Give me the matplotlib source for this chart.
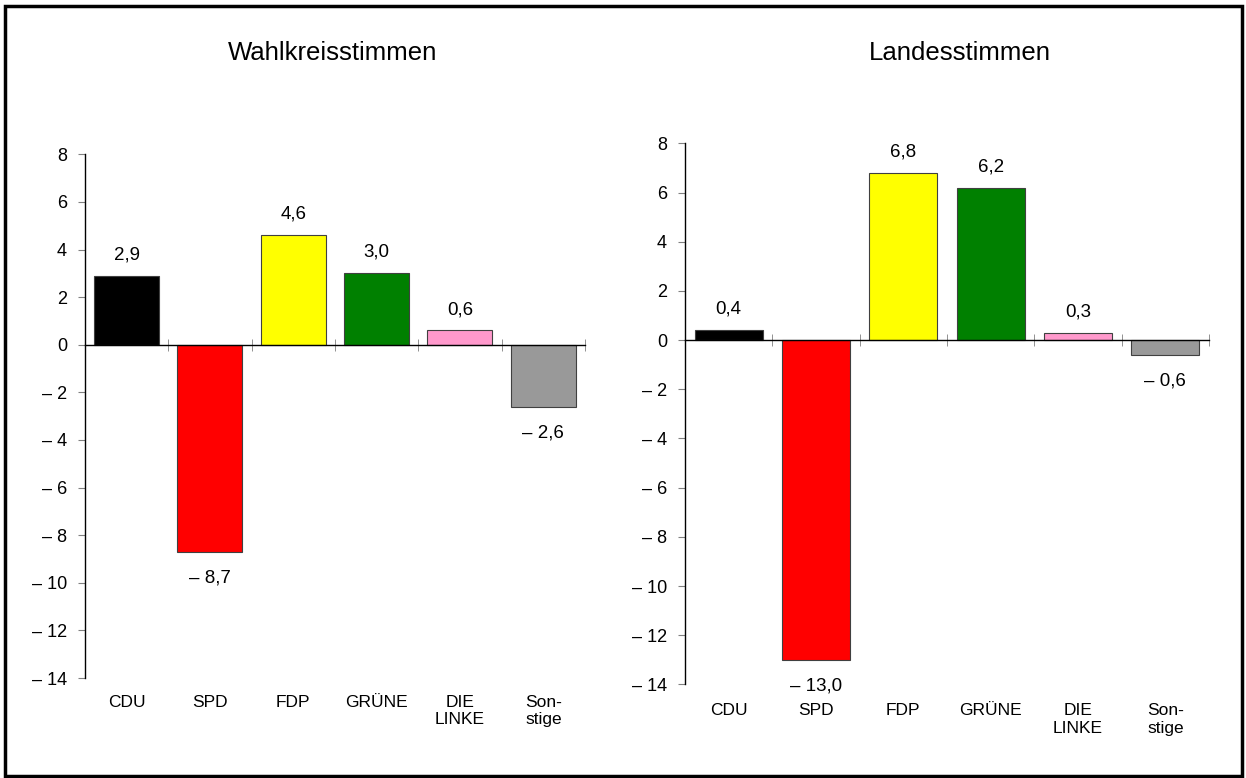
import matplotlib.pyplot as plt
import numpy as np
from matplotlib.patches import Rectangle

plt.rcParams['font.family'] = ['Liberation Sans', 'DejaVu Sans']

parties = ['CDU', 'SPD', 'FDP', 'GRÜNE', 'DIE\nLINKE', 'Son-\nstige']
colors = ['#000000', '#FF0000', '#FFFF00', '#008000', '#FF99CC', '#999999']
wahlkreis = [2.9, -8.7, 4.6, 3.0, 0.6, -2.6]
landes = [0.4, -13.0, 6.8, 6.2, 0.3, -0.6]
yticks = list(range(-14, 9, 2))


def fmt(v, digits=1):
    s = f"{abs(v):.{digits}f}".replace('.', ',')
    return '– ' + s if v < 0 else s


def draw(ax, vals, label_pad):
    x = np.arange(len(parties))
    ax.bar(x, vals, width=0.78, color=colors, edgecolor='#404040', linewidth=0.8)
    ax.set_xlim(-0.5, 5.5)
    ax.set_ylim(-14, 8)

    ax.spines['right'].set_visible(False)
    ax.spines['bottom'].set_visible(False)
    ax.spines['top'].set_position(('data', 0))
    ax.spines['top'].set_linewidth(1.0)
    ax.spines['left'].set_linewidth(1.0)

    ax.set_xticks(x, parties)
    ax.set_xticks(np.arange(-0.5, 6, 1), minor=True)
    ax.tick_params(axis='x', which='major', bottom=True, top=False, length=0,
                   pad=label_pad, labelsize=12.5)
    ax.tick_params(axis='x', which='minor', bottom=False, top=True,
                   direction='inout', length=8, color='#808080')

    ax.set_yticks(yticks, [fmt(t, 0) for t in yticks])
    ax.tick_params(axis='y', direction='out', length=5, color='#808080',
                   pad=8, labelsize=13)

    for xi, v in zip(x, vals):
        ax.annotate(fmt(v), (xi, v), xytext=(0, 15 if v > 0 else -19),
                    textcoords='offset points', ha='center', va='center',
                    fontsize=13.5)


fig = plt.figure(figsize=(12.46, 7.78), dpi=100)

ax1 = fig.add_axes([0.0682, 0.1285, 0.4013, 0.6732])
draw(ax1, wahlkreis, 12)
ax2 = fig.add_axes([0.5498, 0.1202, 0.4205, 0.6956])
draw(ax2, landes, 13.5)

fig.text(0.267, 0.932, 'Wahlkreisstimmen', ha='center', va='center', fontsize=18.5)
fig.text(0.770, 0.932, 'Landesstimmen', ha='center', va='center', fontsize=18.5)

fig.patches.append(Rectangle((0.004, 0.002), 0.993, 0.99, transform=fig.transFigure,
                             fill=False, edgecolor='black', linewidth=2.5))

fig.savefig('out.png', dpi=100)
